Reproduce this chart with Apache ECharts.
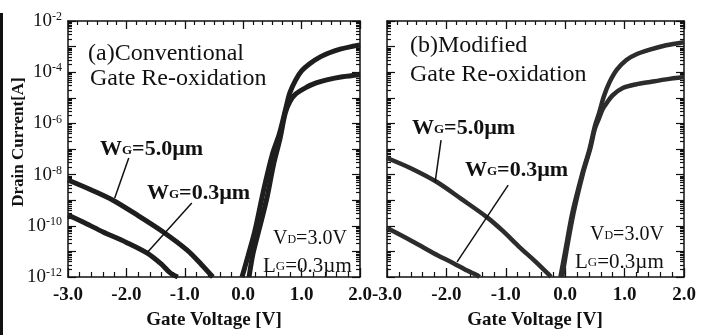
<!DOCTYPE html>
<html><head><meta charset="utf-8">
<script src="https://cdn.jsdelivr.net/npm/echarts@6/dist/echarts.min.js"></script>
<style>html,body{margin:0;padding:0;background:#fff}#c{width:709px;height:335px}</style>
</head><body><div id="c"></div>
<script>
// ---- data: gate voltage [V] and log10 of drain current [A]
// (a) Conventional gate re-oxidation
const aW5OnV   = [-0.02, 0.08, 0.2, 0.35, 0.5, 0.62, 0.72, 0.8, 0.9, 1.0, 1.15, 1.32, 1.5, 1.66, 1.85, 2.0];
const aW5OnLog = [-12, -11.2, -10.2, -8.6, -7.2, -6.4, -5.5, -4.8, -4.3, -3.95, -3.65, -3.4, -3.22, -3.1, -3.0, -2.94];
const aW03OnV   = [0.1, 0.17, 0.3, 0.41, 0.52, 0.63, 0.72, 0.8, 0.9, 1.09, 1.25, 1.43, 1.7, 2.0];
const aW03OnLog = [-12, -11.06, -9.9, -8.87, -7.6, -6.6, -5.6, -5.15, -4.85, -4.58, -4.42, -4.3, -4.18, -4.1];
const aW5OffV   = [-3.0, -2.6, -2.23, -1.8, -1.37, -0.96, -0.72, -0.52];
const aW5OffLog = [-8.21, -8.6, -9.0, -9.6, -10.24, -10.95, -11.5, -12];
const aW03OffV   = [-3.0, -2.7, -2.4, -2.0, -1.65, -1.4, -1.25, -1.12];
const aW03OffLog = [-9.58, -9.9, -10.24, -10.65, -11.06, -11.5, -11.84, -12];
// (b) Modified gate re-oxidation
const bW5OnV   = [-0.08, 0.0, 0.12, 0.29, 0.41, 0.5, 0.57, 0.65, 0.74, 0.87, 1.03, 1.2, 1.41, 1.7, 2.0];
const bW5OnLog = [-12, -11.0, -9.5, -7.94, -7.0, -6.1, -5.6, -4.95, -4.42, -3.9, -3.52, -3.3, -3.13, -2.95, -2.83];
const bW03OnV   = [-0.05, 0.02, 0.14, 0.3, 0.42, 0.5, 0.57, 0.63, 0.7, 0.8, 0.97, 1.2, 1.43, 1.7, 2.0];
const bW03OnLog = [-12, -11.0, -9.5, -7.94, -7.0, -6.2, -5.8, -5.45, -5.2, -4.9, -4.62, -4.47, -4.38, -4.28, -4.19];
const bW5OffV   = [-3.0, -2.6, -2.16, -1.75, -1.32, -1.05, -0.77, -0.5, -0.27, -0.24];
const bW5OffLog = [-7.35, -7.75, -8.29, -8.95, -9.66, -10.2, -10.83, -11.4, -11.92, -12];
const bW03OffV   = [-3.0, -2.7, -2.4, -2.15, -1.89, -1.65, -1.49, -1.44];
const bW03OffLog = [-10.09, -10.45, -10.83, -11.15, -11.45, -11.75, -11.92, -12];
// annotation leader lines (V, log10 I)
const aLeadW5V = [-1.96, -2.2],  aLeadW5Log = [-7.35, -8.91];
const aLeadW03V = [-0.88, -1.65], aLeadW03Log = [-9.11, -11.06];
const bLeadW5V = [-2.09, -2.19],  bLeadW5Log = [-6.65, -8.29];
const bLeadW03V = [-0.96, -1.82], bLeadW03Log = [-8.41, -11.41];
// axes
const xTickValues = [-3, -2, -1, 0, 1, 2];
const yLabelExps = [-12, -10, -8, -6, -4, -2];
const yMajorExps = [-12, -11, -10, -9, -8, -7, -6, -5, -4, -3, -2];
const yMinorMult = [2, 3, 4, 5, 6, 7, 8, 9];

const pts = (v, e) => v.map((x, i) => [x, Math.pow(10, e[i])]);
const FONT = "'Liberation Serif','Times New Roman',serif";
const yMajor = yMajorExps.map(e => Math.pow(10, e));
const yMinor = [];
yMajorExps.slice(0, -1).forEach(e => yMinorMult.forEach(k => yMinor.push(k * Math.pow(10, e))));
const yLabels = yLabelExps.map(e => Math.pow(10, e));

function yAx(grid, pos, minor, labels) {
  return {
    type: 'log', logBase: 10, gridIndex: grid, position: pos,
    min: 1e-12, max: 1e-2,
    axisLine: { show: !minor, onZero: false, lineStyle: { color: '#111', width: 1.5 } },
    axisTick: { show: true, inside: true, length: minor ? 4 : 8,
      customValues: minor ? yMinor : yMajor, lineStyle: { color: '#111', width: 1.2 } },
    axisLabel: labels ? {
      show: true, customValues: yLabels, margin: 6,
      formatter: v => '{b|10}{s|' + Math.round(Math.log10(v)) + '}',
      rich: { b: { fontFamily: FONT, fontSize: 19, color: '#111' },
              s: { fontFamily: FONT, fontSize: 12, color: '#111', verticalAlign: 'top', padding: [0, 0, 8, 0] } }
    } : { show: false },
    splitLine: { show: false }
  };
}
function xAx(grid, pos, labels) {
  const bottom = pos === 'bottom';
  return {
    type: 'value', gridIndex: grid, position: pos, min: -3, max: 2, interval: 1,
    axisLine: { show: true, onZero: false, lineStyle: { color: '#111', width: 1.5 } },
    axisTick: { show: true, inside: true, length: bottom ? 9 : 8, customValues: xTickValues,
      lineStyle: { color: '#111', width: 1.3 } },
    minorTick: { show: true, splitNumber: bottom ? 5 : 6, length: bottom ? 5 : 4, lineStyle: { color: '#111', width: 1.2 } },
    axisLabel: labels ? { show: true, margin: 9, showMinLabel: true, showMaxLabel: true,
      customValues: xTickValues,
      formatter: v => v.toFixed(1), fontFamily: FONT, fontWeight: 'bold', fontSize: 19, color: '#111' } : { show: false },
    splitLine: { show: false }
  };
}
function curve(xi, yi, v, e, w, col) {
  return { type: 'line', xAxisIndex: xi, yAxisIndex: yi, data: pts(v, e), smooth: 0.3,
    showSymbol: false, lineStyle: { color: col, width: w }, z: 3, silent: true };
}
function lead(xi, yi, v, e) {
  return { type: 'line', xAxisIndex: xi, yAxisIndex: yi, data: pts(v, e), showSymbol: false,
    lineStyle: { color: '#111', width: 1.5 }, z: 4, silent: true };
}
function txt(x, y, parts, size, bold) {
  const w = bold ? 'bold' : 'normal';
  return { type: 'text', x: x, y: y, style: {
    text: parts.map(p => '{' + p[0] + '|' + p[1] + '}').join(''),
    verticalAlign: 'middle',
    rich: {
      m: { fontFamily: FONT, fontSize: size, fontWeight: w, fill: '#111', color: '#111', verticalAlign: 'bottom' },
      s: { fontFamily: FONT, fontSize: Math.round(size * 0.6), fontWeight: w, fill: '#111', color: '#111', verticalAlign: 'bottom', padding: [0, 0, 3, 0] }
    } } };
}

const chart = echarts.init(document.getElementById('c'), null, { renderer: 'canvas' });
const LW = '#1e1e1e', RW = '#2c2c2c';
chart.setOption({
  animation: false,
  backgroundColor: '#fff',
  grid: [
    { left: 68, top: 21, width: 292, height: 256 },
    { left: 387, top: 21, width: 297, height: 256 }
  ],
  xAxis: [xAx(0, 'bottom', true), xAx(0, 'top', false), xAx(1, 'bottom', true), xAx(1, 'top', false)],
  yAxis: [yAx(0, 'left', false, true), yAx(0, 'left', true, false), yAx(0, 'right', false, false), yAx(0, 'right', true, false),
          yAx(1, 'left', false, false), yAx(1, 'left', true, false), yAx(1, 'right', false, false), yAx(1, 'right', true, false)],
  series: [
    curve(0, 0, aW5OnV, aW5OnLog, 5, LW), curve(0, 0, aW03OnV, aW03OnLog, 5, LW),
    curve(0, 0, aW5OffV, aW5OffLog, 5, LW), curve(0, 0, aW03OffV, aW03OffLog, 5, LW),
    curve(2, 4, bW5OnV, bW5OnLog, 4.5, RW), curve(2, 4, bW03OnV, bW03OnLog, 4.5, RW),
    curve(2, 4, bW5OffV, bW5OffLog, 4.5, RW), curve(2, 4, bW03OffV, bW03OffLog, 4.5, RW),
    lead(0, 0, aLeadW5V, aLeadW5Log), lead(0, 0, aLeadW03V, aLeadW03Log),
    lead(2, 4, bLeadW5V, bLeadW5Log), lead(2, 4, bLeadW03V, bLeadW03Log)
  ],
  graphic: [
    { type: 'rect', shape: { x: 0, y: 13, width: 3, height: 322 }, style: { fill: '#111' } },
    { type: 'text', x: 19, y: 142, rotation: Math.PI / 2, style: { text: 'Drain Current[A]', font: "bold 17px " + FONT, fill: '#111', align: 'center', verticalAlign: 'middle' } },
    { type: 'text', x: 214, y: 320, style: { text: 'Gate Voltage [V]', font: "bold 19px " + FONT, fill: '#111', align: 'center', verticalAlign: 'middle' } },
    { type: 'text', x: 535, y: 320, style: { text: 'Gate Voltage [V]', font: "bold 19px " + FONT, fill: '#111', align: 'center', verticalAlign: 'middle' } },
    { type: 'text', x: 88, y: 54, style: { text: '(a)Conventional', font: "24px " + FONT, fill: '#111', verticalAlign: 'middle' } },
    { type: 'text', x: 90, y: 79, style: { text: 'Gate Re-oxidation', font: "24px " + FONT, fill: '#111', verticalAlign: 'middle' } },
    { type: 'text', x: 410, y: 46, style: { text: '(b)Modified', font: "24px " + FONT, fill: '#111', verticalAlign: 'middle' } },
    { type: 'text', x: 410, y: 75, style: { text: 'Gate Re-oxidation', font: "24px " + FONT, fill: '#111', verticalAlign: 'middle' } },
    txt(100, 149, [['m', 'W'], ['s', 'G'], ['m', '=5.0µm']], 22, true),
    txt(147, 193, [['m', 'W'], ['s', 'G'], ['m', '=0.3µm']], 22, true),
    txt(412, 128, [['m', 'W'], ['s', 'G'], ['m', '=5.0µm']], 22, true),
    txt(465, 170, [['m', 'W'], ['s', 'G'], ['m', '=0.3µm']], 22, true),
    txt(273, 239, [['m', 'V'], ['s', 'D'], ['m', '=3.0V']], 20, false),
    txt(263, 266, [['m', 'L'], ['s', 'G'], ['m', '=0.3µm']], 21, false),
    txt(590, 235, [['m', 'V'], ['s', 'D'], ['m', '=3.0V']], 20, false),
    txt(575, 262, [['m', 'L'], ['s', 'G'], ['m', '=0.3µm']], 21, false)
  ]
});
</script></body></html>
